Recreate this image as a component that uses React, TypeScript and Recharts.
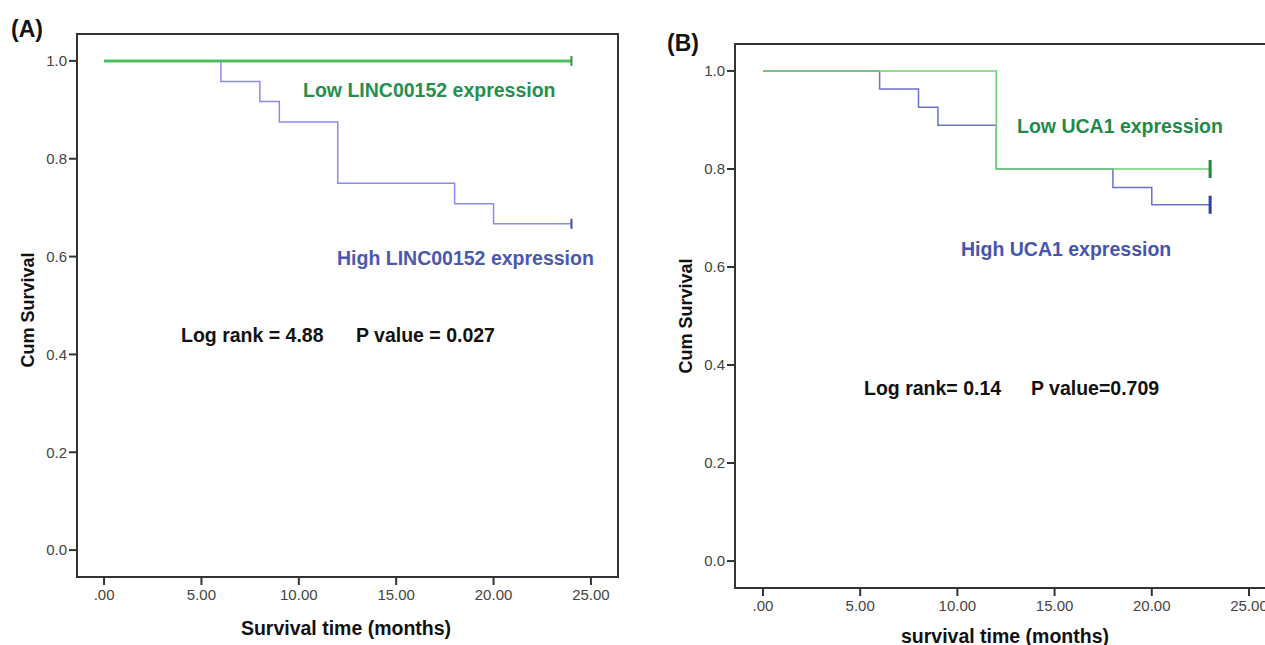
import React from 'react';
import { LineChart, Line, XAxis, YAxis, ReferenceArea } from 'recharts';

const FONT = '"Liberation Sans", Arial, sans-serif';

const monthTicks = [0, 5, 10, 15, 20, 25];
const survivalTicks = [0, 0.2, 0.4, 0.6, 0.8, 1.0];

// Panel A - LINC00152
const lincLowTime = [0, 24];
const lincLowSurv = [1, 1];
const lincHighTime = [0, 6, 8, 9, 12, 18, 20, 24];
const lincHighSurv = [1, 0.958, 0.917, 0.875, 0.75, 0.708, 0.667, 0.667];

// Panel B - UCA1
const ucaLowTime = [0, 12, 23];
const ucaLowSurv = [1, 0.8, 0.8];
const ucaHighTime = [0, 6, 8, 9, 12, 18, 20, 23];
const ucaHighSurv = [1, 0.963, 0.926, 0.889, 0.8, 0.762, 0.727, 0.727];

const toRows = (times: number[], surv: number[]) => times.map((t, i) => ({ t, s: surv[i] }));

// censored mark only on the last point of a curve
const censorDot = (lastIndex: number, color: string, half: number, width: number) => (props: any) => {
  const { cx, cy, index } = props;
  if (index !== lastIndex || cx == null || cy == null) return <g key={`d-${index}`} />;
  return (
    <line key={`d-${index}`} x1={cx} x2={cx} y1={cy - half} y2={cy + half} stroke={color} strokeWidth={width} />
  );
};

interface SurvivalPanelProps {
  width: number;
  margin: { top: number; right: number; bottom: number; left: number };
  xDomain: [number, number];
  low: { t: number; s: number }[];
  high: { t: number; s: number }[];
  lowColor: string;
  highColor: string;
  lowWidth: number;
  lowTick: string;
  highTick: string;
  tickHalf: number;
  tickWidth: number;
}

const yDomain: [number, number] = [-0.055, 1.055];
const tickStyle = { fontSize: 15, fill: '#444', fontFamily: FONT };

const SurvivalPanel: React.FC<SurvivalPanelProps> = (p) => (
  <LineChart width={p.width} height={645} margin={p.margin}>
    <XAxis
      type="number"
      dataKey="t"
      domain={p.xDomain}
      ticks={monthTicks}
      allowDataOverflow
      tickFormatter={(v: number) => (v === 0 ? '.00' : v.toFixed(2))}
      tick={tickStyle}
      tickSize={8}
      tickMargin={4}
      height={30}
      axisLine={{ stroke: '#333', strokeWidth: 2 }}
      tickLine={{ stroke: '#333', strokeWidth: 2 }}
    />
    <YAxis
      type="number"
      domain={yDomain}
      ticks={survivalTicks}
      allowDataOverflow
      tickFormatter={(v: number) => v.toFixed(1)}
      tick={tickStyle}
      tickSize={8}
      tickMargin={2}
      width={60}
      axisLine={{ stroke: '#333', strokeWidth: 2 }}
      tickLine={{ stroke: '#333', strokeWidth: 2 }}
    />
    <ReferenceArea
      x1={p.xDomain[0]}
      x2={p.xDomain[1]}
      y1={yDomain[0]}
      y2={yDomain[1]}
      fill="none"
      stroke="#333"
      strokeWidth={2}
      ifOverflow="visible"
    />
    <Line
      data={p.high}
      dataKey="s"
      type="stepAfter"
      stroke={p.highColor}
      strokeWidth={1.5}
      dot={censorDot(p.high.length - 1, p.highTick, p.tickHalf, p.tickWidth)}
      activeDot={false}
      isAnimationActive={false}
    />
    <Line
      data={p.low}
      dataKey="s"
      type="stepAfter"
      stroke={p.lowColor}
      strokeWidth={p.lowWidth}
      dot={censorDot(p.low.length - 1, p.lowTick, p.tickHalf, p.tickWidth)}
      activeDot={false}
      isAnimationActive={false}
    />
  </LineChart>
);

const label = { fontFamily: FONT, fontWeight: 700 } as const;

export default function App() {
  return (
    <div style={{ position: 'fixed', left: 0, top: 0, width: 1265, height: 645, overflow: 'hidden', background: '#fff' }}>
      <div style={{ position: 'absolute', left: 0, top: 0 }}>
        <SurvivalPanel
          width={640}
          margin={{ top: 34, right: 22, bottom: 38, left: 17 }}
          xDomain={[-1.39, 26.39]}
          low={toRows(lincLowTime, lincLowSurv)}
          high={toRows(lincHighTime, lincHighSurv)}
          lowColor="#4cbf5c"
          highColor="#8a8af2"
          lowWidth={3}
          lowTick="#2f9a45"
          highTick="#3d4aa8"
          tickHalf={5}
          tickWidth={2}
        />
      </div>
      <div style={{ position: 'absolute', left: 640, top: 0 }}>
        <SurvivalPanel
          width={650}
          margin={{ top: 44, right: 14, bottom: 27, left: 35 }}
          xDomain={[-1.44, 26.39]}
          low={toRows(ucaLowTime, ucaLowSurv)}
          high={toRows(ucaHighTime, ucaHighSurv)}
          lowColor="#6fd06f"
          highColor="#6b74c4"
          lowWidth={1.5}
          lowTick="#1f8a3a"
          highTick="#2f3f9e"
          tickHalf={9}
          tickWidth={3}
        />
      </div>
      <svg width={1265} height={645} style={{ position: 'absolute', left: 0, top: 0, pointerEvents: 'none' }}>
        <text x={11} y={37} fontSize={23} fill="#111" {...label}>(A)</text>
        <text x={667} y={51} fontSize={23} fill="#111" {...label}>(B)</text>

        <text x={303} y={97} fontSize={19.5} fill="#23904f" {...label}>Low LINC00152 expression</text>
        <text x={337} y={265} fontSize={19.5} fill="#4a58b0" {...label}>High LINC00152 expression</text>
        <text x={181} y={342} fontSize={19.5} fill="#111" {...label}>Log rank = 4.88</text>
        <text x={356} y={342} fontSize={19.5} fill="#111" {...label}>P value = 0.027</text>

        <text x={1017} y={133} fontSize={19.5} fill="#1f8a4a" {...label}>Low UCA1 expression</text>
        <text x={961} y={256} fontSize={19.5} fill="#4555ad" {...label}>High UCA1 expression</text>
        <text x={864} y={395} fontSize={19.5} fill="#111" {...label}>Log rank= 0.14</text>
        <text x={1031} y={395} fontSize={19.5} fill="#111" {...label}>P value=0.709</text>

        <text x={0} y={0} transform="translate(28,310) rotate(-90)" textAnchor="middle" dominantBaseline="central" fontSize={18} fill="#111" {...label}>Cum Survival</text>
        <text x={0} y={0} transform="translate(686,316) rotate(-90)" textAnchor="middle" dominantBaseline="central" fontSize={18} fill="#111" {...label}>Cum Survival</text>
        <text x={346} y={635} textAnchor="middle" fontSize={19.5} fill="#111" {...label}>Survival time (months)</text>
        <text x={1005} y={643} textAnchor="middle" fontSize={19.5} fill="#111" {...label}>survival time (months)</text>
      </svg>
    </div>
  );
}
